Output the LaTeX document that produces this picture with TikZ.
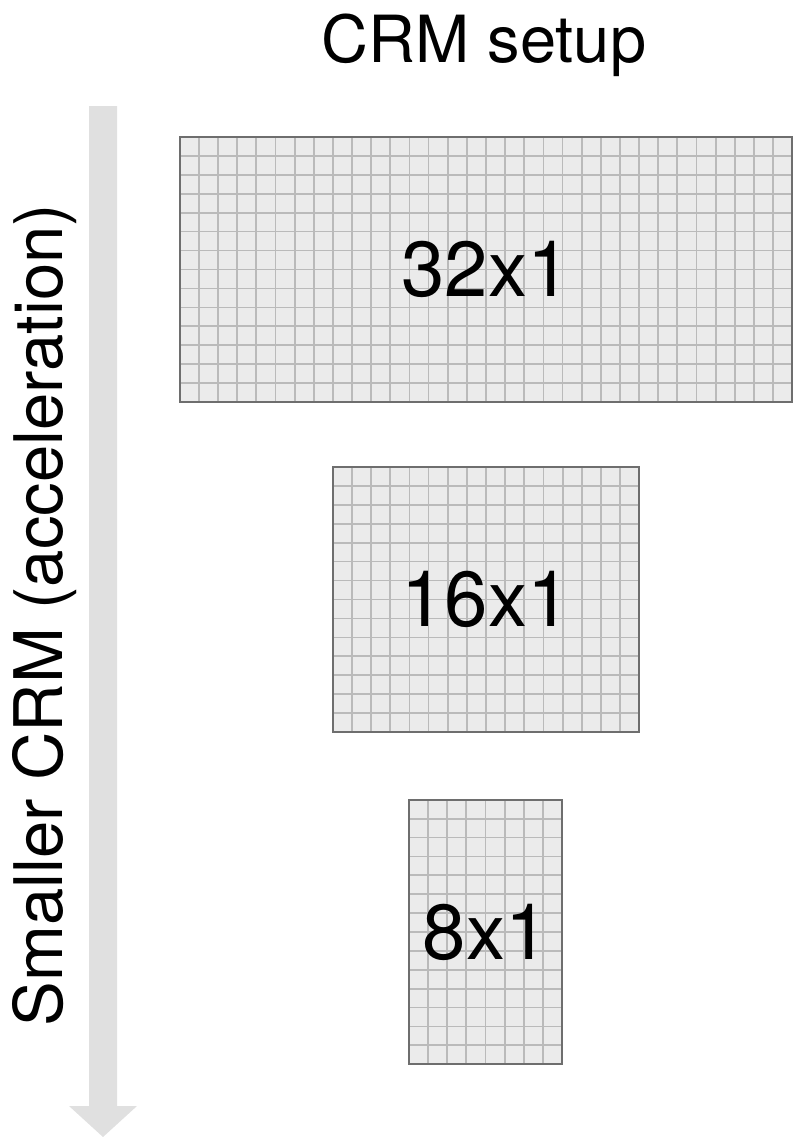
\documentclass[tikz,border=0pt]{standalone}
\usepackage{fontspec}
\setmainfont{TeX Gyre Heros}
\usepackage{xcolor}
\definecolor{cellfill}{RGB}{235,235,235}
\definecolor{cellline}{RGB}{186,186,186}
\definecolor{boxline}{RGB}{110,110,110}
\definecolor{arrowgray}{RGB}{224,224,224}
\usepackage{tikz}
\usetikzlibrary{positioning,calc}

\begin{document}
\begin{tikzpicture}[x=1pt,y=-1pt,
      crmbox/.style={rectangle,inner sep=0pt,fill=cellfill},
      gridline/.style={line width=1.8pt,cellline},
      boxedge/.style={line width=1.8pt,boxline},
      sizelab/.style={font=\fontsize{78}{82}\selectfont},
      bigtext/.style={font=\fontsize{65}{70}\selectfont,inner sep=0pt}]
    \useasboundingbox (0,0) rectangle (794,1144);
    % title
    \node[bigtext,anchor=base] (title) at (484,62) {CRM setup};
    % vertical arrow on the left
    \fill[arrowgray] (89,106) -- (117,106) -- (117,1106) -- (137,1106)
      -- (103,1137) -- (69,1106) -- (89,1106) -- cycle;
    \node[bigtext,rotate=90,anchor=base,font=\fontsize{67}{70}\selectfont] (axis) at (62,615)
      {Smaller CRM (acceleration)};
    % three CRM grids, 14 rows each
    \node[crmbox,minimum width=612pt,minimum height=265pt] (crm32) at (486,269.5) {};
    \node[crmbox,minimum width=306pt,minimum height=265pt] (crm16) at (486,599.5) {};
    \node[crmbox,minimum width=153pt,minimum height=264pt] (crm8) at (485.5,932) {};
    \foreach \name/\cols in {crm32/32, crm16/16, crm8/8} {
      \pgfmathtruncatemacro{\last}{\cols-1}
      \foreach \i in {1,...,\last} {
        \draw[gridline] ($(\name.north west)!\i/\cols!(\name.north east)$)
          -- ($(\name.south west)!\i/\cols!(\name.south east)$);
      }
      \foreach \j in {1,...,13} {
        \draw[gridline] ($(\name.north west)!\j/14!(\name.south west)$)
          -- ($(\name.north east)!\j/14!(\name.south east)$);
      }
      \draw[boxedge] (\name.north west) rectangle (\name.south east);
    }
    % grid sizes
    \node[sizelab] (lab32) at (crm32) {32x1};
    \node[sizelab] (lab16) at (crm16) {16x1};
    \node[sizelab] (lab8) at (crm8) {8x1};
  \end{tikzpicture}
\end{document}
